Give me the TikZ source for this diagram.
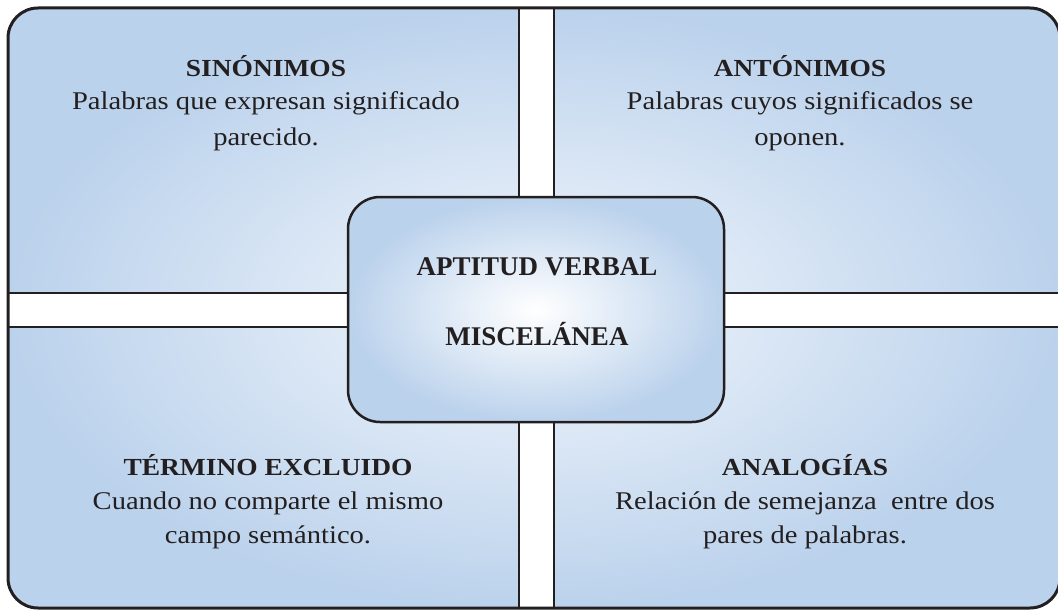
\documentclass[tikz,border=0pt]{standalone}
\usepackage{fontspec}
\setmainfont[FakeStretch=1.12]{Liberation Serif}
\newfontfamily\ctrfont{Liberation Serif}
\definecolor{edgeblue}{HTML}{BBD2EC}
\definecolor{innerblue}{HTML}{F3F7FC}
\definecolor{ink}{HTML}{231F20}
\tikzset{
  border/.style={draw=ink, line width=3pt},
  stripline/.style={draw=ink, line width=2.5pt},
  headtxt/.style={anchor=base, font=\fontsize{24.5}{28}\selectfont\bfseries, text=ink, inner sep=0pt},
  bodytxt/.style={anchor=base, font=\fontsize{25.5}{30}\selectfont, text=ink, inner sep=0pt},
  ctrtxt/.style={anchor=base, font=\ctrfont\fontsize{27}{30}\selectfont\bfseries, text=ink, inner sep=0pt},
  centerbox/.style={draw=ink, line width=2.5pt, rounded corners=32pt, shading=radial, inner color=white, outer color=edgeblue}
}
\begin{document}
\begin{tikzpicture}[x=1pt,y=-1pt]
\useasboundingbox (0,0) rectangle (1058,610);
% outer panel with shading
\shade[inner color=innerblue, outer color=edgeblue, rounded corners=30pt] (8,8) rectangle (1060,608);
% white cross strips
\fill[white] (519,8) rectangle (554,608);
\fill[white] (8,293) rectangle (1060,327);
% strip borders
\draw[stripline] (519,8) -- (519,293);
\draw[stripline] (554,8) -- (554,293);
\draw[stripline] (519,327) -- (519,608);
\draw[stripline] (554,327) -- (554,608);
\draw[stripline] (8,293) -- (519,293);
\draw[stripline] (8,327) -- (519,327);
\draw[stripline] (554,293) -- (1060,293);
\draw[stripline] (554,327) -- (1060,327);
% outer border
\draw[border, rounded corners=30pt] (8,8) rectangle (1060,608);
% central box
\path[centerbox] (348,197) rectangle (724,422);
\node[ctrtxt] (c1) at (537,275) {APTITUD VERBAL};
\node[ctrtxt] (c2) at (537,345) {MISCELÁNEA};
% top left
\node[headtxt] (tlh) at (266,77) {SINÓNIMOS};
\node[bodytxt] (tl1) at (266,110) {Palabras que expresan significado};
\node[bodytxt] (tl2) at (266,145) {parecido.};
% top right
\node[headtxt] (trh) at (800,77) {ANTÓNIMOS};
\node[bodytxt] (tr1) at (800,110) {Palabras cuyos significados se};
\node[bodytxt] (tr2) at (800,145) {oponen.};
% bottom left
\node[headtxt] (blh) at (268,475) {TÉRMINO EXCLUIDO};
\node[bodytxt] (bl1) at (268,509) {Cuando no comparte el mismo};
\node[bodytxt] (bl2) at (268,543) {campo semántico.};
% bottom right
\node[headtxt] (brh) at (805,475) {ANALOGÍAS};
\node[bodytxt] (br1) at (805,509) {Relación de semejanza\ \ entre dos};
\node[bodytxt] (br2) at (805,543) {pares de palabras.};
\end{tikzpicture}
\end{document}
